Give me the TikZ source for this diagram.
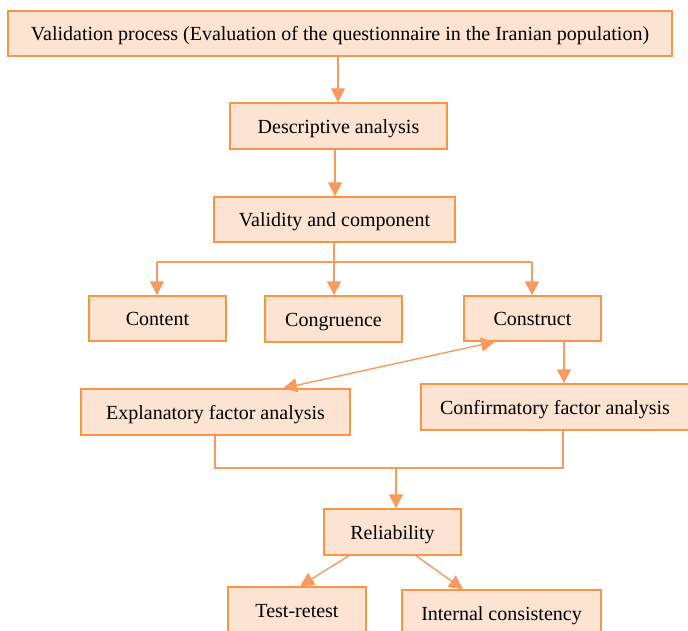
\documentclass[tikz,border=0pt]{standalone}
\usepackage{fontspec}
\setmainfont{Liberation Serif}
\usetikzlibrary{arrows.meta}
\definecolor{boxfill}{HTML}{FDE3D2}
\definecolor{boxline}{HTML}{F79646}
\definecolor{arr}{HTML}{F79A5E}
\tikzset{
  bx/.style={draw=boxline, fill=boxfill, line width=1.4pt, inner sep=0pt, align=center,
    text height=17pt, text depth=3pt,
    font=\fontsize{20}{22}\selectfont},
  con/.style={draw=arr, line width=1.4pt},
  tip/.tip={Triangle[width=14pt,length=14pt]},
  arw/.style={con, -tip},
}
\begin{document}
\begin{tikzpicture}[x=1pt,y=-1pt]
\useasboundingbox (0,0) rectangle (688,630);
\clip (0,0) rectangle (688,630);
\node[bx, minimum width=664pt, minimum height=45pt] (top) at (340,33.5) {Validation process (Evaluation of the questionnaire in the Iranian population)};
\node[bx, minimum width=217pt, minimum height=46pt] (desc) at (338.5,126) {Descriptive analysis};
\node[bx, minimum width=241pt, minimum height=45pt] (val) at (334.5,219.5) {Validity and component};
\node[bx, minimum width=137pt, minimum height=45pt] (cont) at (157.5,318.5) {Content};
\node[bx, minimum width=137pt, minimum height=46pt] (cong) at (333.5,319) {Congruence};
\node[bx, minimum width=137pt, minimum height=45pt] (cons) at (532.5,318.5) {Construct};
\node[bx, minimum width=269pt, minimum height=46pt] (efa) at (215.5,412) {Explanatory factor analysis};
\node[bx, minimum width=268pt, minimum height=46pt] (cfa) at (555,407) {Confirmatory factor analysis};
\node[bx, minimum width=137pt, minimum height=46pt] (rel) at (392.5,532) {Reliability};
\node[bx, minimum width=138pt, minimum height=46pt] (tr) at (297,610) {Test-retest};
\node[bx, minimum width=199pt, minimum height=46pt] (ic) at (501.5,613) {Internal consistency};

\coordinate (split) at (334,262);
\coordinate (jl) at (215,468);
\coordinate (jr) at (563,468);
\coordinate (jm) at (396,468);

\draw[arw] (top.south -| 338,0) -- (desc.north -| 338,0);
\draw[arw] (desc.south -| 335,0) -- (val.north -| 335,0);
\draw[con] (val.south -| split) -- (split);
\draw[con] (157,262) -- (532,262);
\draw[arw] (157,262) -- (cont.north -| 157,0);
\draw[arw] (split) -- (cong.north -| 334,0);
\draw[arw] (532,262) -- (cons.north -| 532,0);
\draw[con, tip-tip] (cons.south -| 495,0) -- (efa.north -| 283,0);
\draw[arw] (cons.south -| 564,0) -- (cfa.north -| 564,0);
\draw[con] (efa.south -| jl) -- (jl) -- (jr) -- (cfa.south -| jr);
\draw[arw] (jm) -- (rel.north -| jm);
\draw[arw] (rel.south -| 349,0) -- (tr.north -| 300,0);
\draw[arw] (rel.south -| 416,0) -- (ic.north -| 463,0);
\end{tikzpicture}
\end{document}
